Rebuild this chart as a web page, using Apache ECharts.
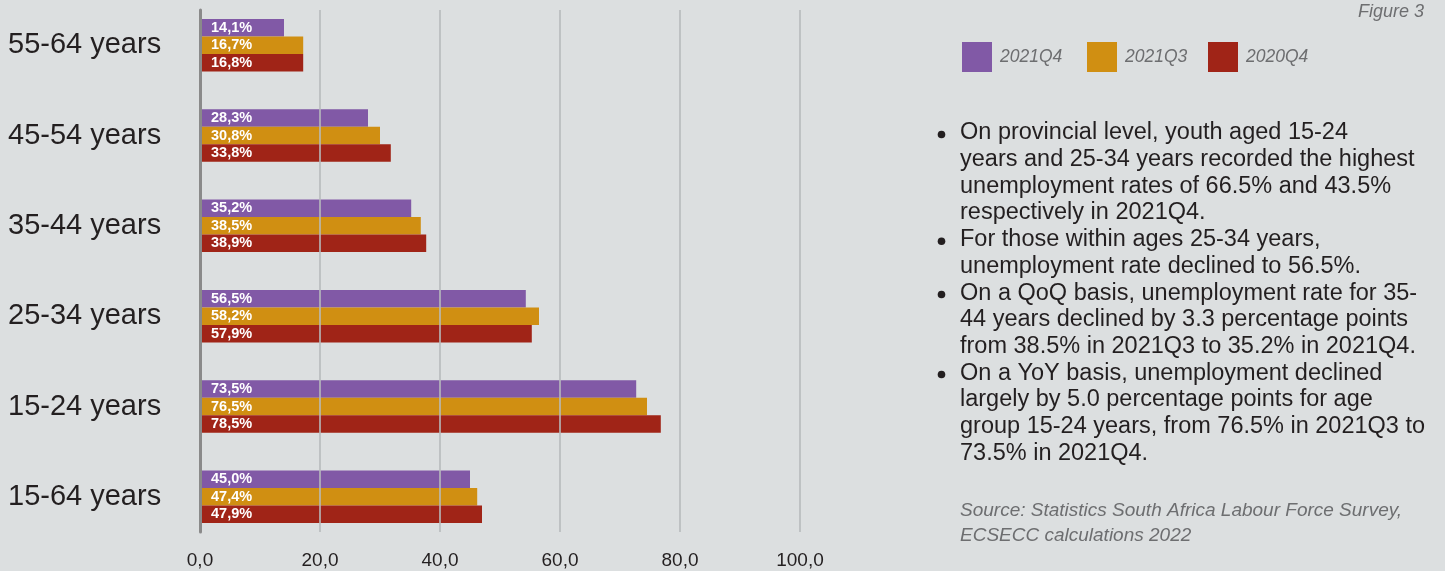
<!DOCTYPE html>
<html>
<head>
<meta charset="utf-8">
<script src="https://cdn.jsdelivr.net/npm/echarts@6/dist/echarts.min.js"></script>
<style>
html,body{margin:0;padding:0;background:#dcdfe0;}
#chart{width:1445px;height:571px;}
</style>
</head>
<body>
<div id="chart"></div>
<script>
// ---- data ----
const categories = ['55-64 years','45-54 years','35-44 years','25-34 years','15-24 years','15-64 years'];
const seriesNames = ['2021Q4','2021Q3','2020Q4'];
// bar lengths as drawn in the picture
const bars2021Q4 = [14.0, 28.0, 35.2, 54.3, 72.7, 45.0];
const bars2021Q3 = [17.2, 30.0, 36.8, 56.5, 74.5, 46.2];
const bars2020Q4 = [17.2, 31.8, 37.7, 55.3, 76.8, 47.0];
// value labels printed on the bars
const labels2021Q4 = [14.1, 28.3, 35.2, 56.5, 73.5, 45.0];
const labels2021Q3 = [16.7, 30.8, 38.5, 58.2, 76.5, 47.4];
const labels2020Q4 = [16.8, 33.8, 38.9, 57.9, 78.5, 47.9];
const xTicks = [0, 20, 40, 60, 80, 100];
const figureTitle = 'Figure 3';
const bulletLines = [
  ['On provincial level, youth aged 15-24','years and 25-34 years recorded the highest','unemployment rates of 66.5% and 43.5%','respectively in 2021Q4.'],
  ['For those within ages 25-34 years,','unemployment rate declined to 56.5%.'],
  ['On a QoQ basis, unemployment rate for 35-','44 years declined by 3.3 percentage points','from 38.5% in 2021Q3 to 35.2% in 2021Q4.'],
  ['On a YoY basis, unemployment declined','largely by 5.0 percentage points for age','group 15-24 years, from 76.5% in 2021Q3 to','73.5% in 2021Q4.']
];
const sourceLines = ['Source: Statistics South Africa Labour Force Survey,','ECSECC calculations 2022'];

// ---- styles ----
const colors = ['#8159a6','#d08f12','#a02417'];
const legendLefts = [962, 1087, 1208];
const sans = '"Liberation Sans",Arial,Helvetica,sans-serif';
const fmt = v => v.toFixed(1).replace('.', ',');

const barData = [bars2021Q4, bars2021Q3, bars2020Q4];
const labelData = [labels2021Q4, labels2021Q3, labels2020Q4];

const series = seriesNames.map((name, i) => ({
  name: name,
  type: 'bar',
  xAxisIndex: 0,
  yAxisIndex: 0,
  data: barData[i],
  barWidth: 17.5,
  barGap: '0%',
  itemStyle: {color: colors[i]},
  label: {
    show: true,
    position: 'insideLeft',
    distance: 11,
    color: '#ffffff',
    fontFamily: sans,
    fontWeight: 'bold',
    fontSize: 14.5,
    formatter: p => fmt(labelData[i][p.dataIndex]) + '%'
  }
}));

const legends = seriesNames.map((name, i) => ({
  left: legendLefts[i], top: 42, padding: 0,
  itemWidth: 30, itemHeight: 30,
  icon: 'rect',
  data: [name],
  textStyle: {fontFamily: sans, fontStyle: 'italic', fontSize: 17.5, color: '#6d6e70', padding: [0, 0, 0, 3]}
}));

// graphic elements for the right-hand panel
const graphics = [];
graphics.push({
  type: 'text', right: 21, top: 3,
  style: {text: figureTitle, fontFamily: sans, fontStyle: 'italic', fontSize: 18, fill: '#6d6e70'}
});
const lineH = 26.67;
const firstCenter = 133;
let lineIdx = 0;
bulletLines.forEach(lines => {
  const cy = firstCenter + lineIdx * lineH;
  graphics.push({
    type: 'circle', shape: {cx: 941.5, cy: cy + 1.5, r: 3.8},
    style: {fill: '#231f20'}
  });
  lines.forEach((t, k) => {
    graphics.push({
      type: 'text', x: 960, y: firstCenter + (lineIdx + k) * lineH,
      style: {text: t, fontFamily: sans, fontSize: 23.5, fill: '#231f20', verticalAlign: 'middle', align: 'left'}
    });
  });
  lineIdx += lines.length;
});
sourceLines.forEach((t, k) => {
  graphics.push({
    type: 'text', x: 960, y: 511 + k * 24.5,
    style: {text: t, fontFamily: sans, fontStyle: 'italic', fontSize: 19, fill: '#6d6e70', verticalAlign: 'middle', align: 'left'}
  });
});

const chart = echarts.init(document.getElementById('chart'), null, {renderer: 'canvas'});
chart.setOption({
  backgroundColor: '#dcdfe0',
  animation: false,
  color: colors,
  legend: legends,
  grid: [
    {left: 200, width: 600, top: -1, height: 543},
    {left: 200, width: 600, top: 10, height: 522}
  ],
  xAxis: [
    {gridIndex: 0, type: 'value', min: 0, max: 100, show: false},
    {
      gridIndex: 1, type: 'value', min: 0, max: 100, interval: 20, z: 3,
      axisLine: {show: false}, axisTick: {show: false},
      splitLine: {show: true, lineStyle: {color: '#b7babc', width: 1.6}},
      axisLabel: {
        margin: 19, fontFamily: sans, fontSize: 19, color: '#231f20',
        formatter: v => xTicks.indexOf(v) >= 0 ? fmt(v) : ''
      }
    }
  ],
  yAxis: [
    {
      gridIndex: 0, type: 'category', inverse: true, data: categories,
      axisLine: {show: false}, axisTick: {show: false},
      axisLabel: {align: 'left', margin: 192, fontFamily: sans, fontSize: 29, color: '#231f20'}
    },
    {
      gridIndex: 1, type: 'value', min: 0, max: 1, z: 4,
      axisLine: {show: true, lineStyle: {color: '#8a8a8a', width: 3}},
      axisTick: {show: false}, axisLabel: {show: false}, splitLine: {show: false}
    }
  ],
  series: series,
  graphic: graphics
});
</script>
</body>
</html>
